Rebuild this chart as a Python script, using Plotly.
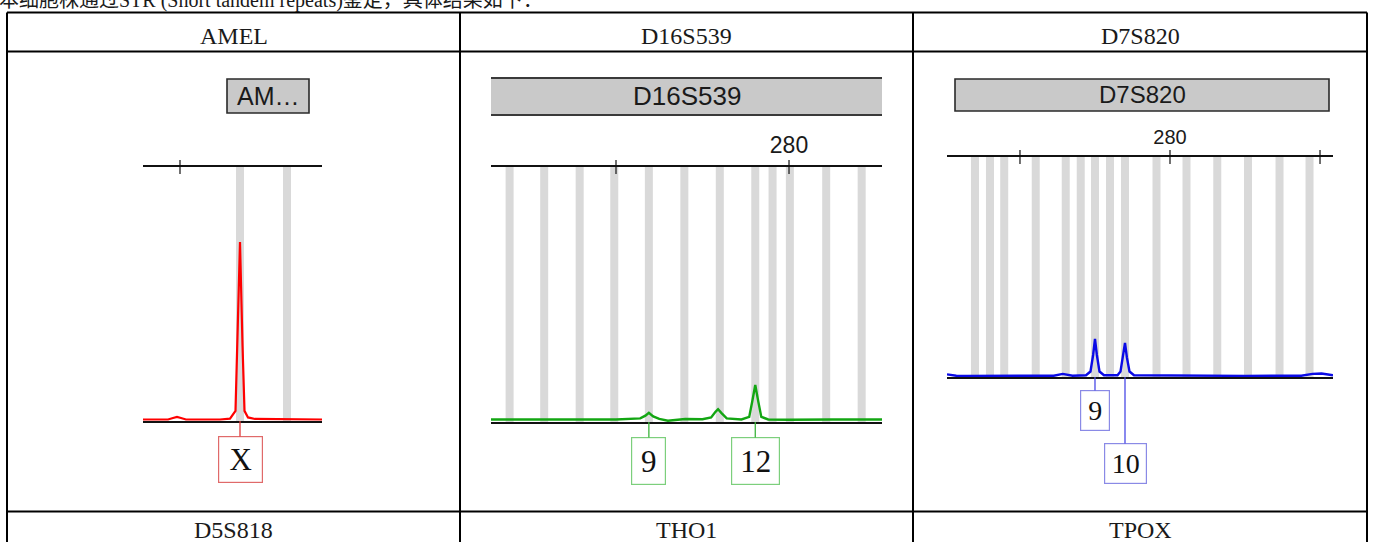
import plotly.graph_objects as go

W, H = 1373, 542

# ---------------- data ----------------
intro_text = "本细胞株通过STR (Short tandem repeats)鉴定，具体结果如下："
row1_headers = ["AMEL", "D16S539", "D7S820"]
row2_headers = ["D5S818", "THO1", "TPOX"]

# AMEL panel
amel_title = "AM…"
amel_ticks = [100]
amel_tick_text = [""]
amel_bins = [106.0, 110.7]
amel_x = [96.3, 98.8, 99.3, 99.7, 100.1, 100.6, 104.0, 105.0, 105.55, 105.75, 106.0, 106.25, 106.45, 106.8, 107.5, 114.2]
amel_y = [6, 6, 12, 16, 12, 6, 6, 9, 40, 300, 705, 300, 40, 14, 8, 6]
amel_alleles = ["X"]
amel_allele_pos = [106.0]

# D16S539 panel
d16_title = "D16S539"
d16_ticks = [260, 280]
d16_tick_text = ["", "280"]
d16_bins = [247.7, 251.7, 255.8, 259.8, 263.8, 267.9, 272.0, 276.1, 278.1, 280.1, 284.3, 288.4]
d16_x = [245.55, 250, 255, 260, 262.8, 263.4, 263.8, 264.3, 265, 266, 268, 270, 271.0, 271.5, 271.8,
         272.2, 272.8, 274.5, 275.4, 275.75, 276.1, 276.45, 276.8, 277.6, 280, 285, 290.75]
d16_y = [10, 9, 10, 10, 14, 25, 36, 22, 12, 5, 12, 11, 18, 40, 50,
         35, 14, 10, 20, 80, 145, 80, 20, 10, 9, 10, 10]
d16_alleles = ["9", "12"]
d16_allele_pos = [263.8, 276.1]

# D7S820 panel
d7_title = "D7S820"
d7_ticks = [260, 280, 300]
d7_tick_text = ["", "280", ""]
d7_bins = [254.0, 256.0, 257.9, 262.1, 266.1, 268.1, 270.0, 272.0, 274.0, 278.2, 282.2, 286.3, 290.4, 294.6, 298.6]
d7_x = [250.27, 251.5, 253, 260, 264.5, 265.7, 267, 268.8, 269.4, 269.75, 270, 270.25, 270.6, 271.2,
        273, 273.4, 273.75, 274, 274.25, 274.6, 275.2, 280, 290, 297.5, 299, 300.2, 301.73]
d7_y = [12, 6, 5, 5, 6, 14, 6, 8, 25, 100, 173, 100, 25, 8,
        8, 25, 90, 155, 90, 25, 8, 6, 5, 6, 14, 16, 8]
d7_alleles = ["9", "10"]
d7_allele_pos = [270.0, 274.0]

# ---------------- layout config (positions / styles) ----------------
def pxx(x):
    return x / W


def pxy(y):
    return 1 - y / H


panels = [
    dict(title=amel_title, ticks=amel_ticks, tick_text=amel_tick_text, bins=amel_bins,
         tx=amel_x, ty=amel_y, alleles=amel_alleles, allele_pos=amel_allele_pos,
         x0=143, x1=322, ytop=167, ybase=421, xrange=[96.3, 114.2],
         color="#ff0000", lw=2.2, boxcolor="#e06a6a", linecol="#e03a3a",
         hbox=(227, 309, 79, 113), hfont=25, hstyle="box",
         lab_ay=[38.5], lab_w=[45], lab_h=[47], lab_font=31, tickfont=22),
    dict(title=d16_title, ticks=d16_ticks, tick_text=d16_tick_text, bins=d16_bins,
         tx=d16_x, ty=d16_y, alleles=d16_alleles, allele_pos=d16_allele_pos,
         x0=491, x1=882, ytop=167, ybase=422, xrange=[245.55, 290.75],
         color="#13a613", lw=2.4, boxcolor="#7ccf7c", linecol="#3cb43c",
         hbox=(491, 882, 78, 115), hfont=26, hstyle="tb",
         lab_ay=[39, 39], lab_w=[35, 49], lab_h=[48, 48], lab_font=31, tickfont=23),
    dict(title=d7_title, ticks=d7_ticks, tick_text=d7_tick_text, bins=d7_bins,
         tx=d7_x, ty=d7_y, alleles=d7_alleles, allele_pos=d7_allele_pos,
         x0=947, x1=1333, ytop=157, ybase=377, xrange=[250.27, 301.73],
         color="#0a0ae6", lw=2.4, boxcolor="#8a8ae6", linecol="#4a4ae6",
         hbox=(955, 1329, 79, 111), hfont=24, hstyle="box",
         lab_ay=[33.5, 86.5], lab_w=[30, 43], lab_h=[41, 41], lab_font=28, tickfont=20),
]

fig = go.Figure()
shapes = []
annotations = []
layout_axes = {}

for i, p in enumerate(panels, start=1):
    xa = "x" if i == 1 else f"x{i}"
    ya = "y" if i == 1 else f"y{i}"
    xkey = "xaxis" if i == 1 else f"xaxis{i}"
    ykey = "yaxis" if i == 1 else f"yaxis{i}"

    fig.add_trace(go.Scatter(x=p["tx"], y=p["ty"], mode="lines", xaxis=xa, yaxis=ya,
                             line=dict(color=p["color"], width=p["lw"]),
                             hoverinfo="skip", showlegend=False))

    layout_axes[xkey] = dict(domain=[pxx(p["x0"]), pxx(p["x1"])], range=p["xrange"],
                             anchor=ya, side="top", showline=True, linecolor="#111",
                             linewidth=1.5, mirror=True, showgrid=False, zeroline=False,
                             tickvals=p["ticks"], ticktext=p["tick_text"], ticks="",
                             tickfont=dict(family="Liberation Sans, Arial", size=p["tickfont"], color="#1a1a1a"),
                             ticklabelstandoff=3, fixedrange=True)
    layout_axes[ykey] = dict(domain=[pxy(p["ybase"]), pxy(p["ytop"])], range=[0, 1000],
                             anchor=xa, showline=False, showgrid=False, zeroline=False,
                             showticklabels=False, ticks="", fixedrange=True)

    # grey allele bins
    for b in p["bins"]:
        shapes.append(dict(type="rect", xref=xa, yref=f"{ya} domain", xsizemode="pixel",
                           xanchor=b, x0=-4, x1=4, y0=0, y1=1, fillcolor="#d9d9d9",
                           line=dict(width=0), layer="below"))
    # tick marks crossing the axis line
    for t in p["ticks"]:
        shapes.append(dict(type="line", xref=xa, yref="paper", x0=t, x1=t,
                           y0=pxy(p["ytop"] - 7), y1=pxy(p["ytop"] + 7),
                           line=dict(color="#111", width=1.2)))

    # locus header box
    hx0, hx1, hy0, hy1 = p["hbox"]
    if p["hstyle"] == "box":
        shapes.append(dict(type="rect", xref="paper", yref="paper", x0=pxx(hx0), x1=pxx(hx1),
                           y0=pxy(hy1), y1=pxy(hy0), fillcolor="#c9c9c9",
                           line=dict(color="#2a2a2a", width=1.6)))
    else:
        shapes.append(dict(type="rect", xref="paper", yref="paper", x0=pxx(hx0), x1=pxx(hx1),
                           y0=pxy(hy1), y1=pxy(hy0), fillcolor="#c9c9c9", line=dict(width=0)))
        for yy in (hy0, hy1):
            shapes.append(dict(type="line", xref="paper", yref="paper", x0=pxx(hx0), x1=pxx(hx1),
                               y0=pxy(yy), y1=pxy(yy), line=dict(color="#3a3a3a", width=2)))
    annotations.append(dict(text=p["title"], xref="paper", yref="paper",
                            x=pxx((hx0 + hx1) / 2), y=pxy((hy0 + hy1) / 2),
                            xanchor="center", yanchor="middle", showarrow=False,
                            font=dict(family="Liberation Sans, Arial", size=p["hfont"], color="#1a1a1a")))

    # allele call labels
    for lab, pos, ay, bw, bh in zip(p["alleles"], p["allele_pos"], p["lab_ay"], p["lab_w"], p["lab_h"]):
        annotations.append(dict(text=lab, xref=xa, yref=ya, x=pos, y=0, ax=0, ay=ay,
                                showarrow=True, arrowhead=0, arrowwidth=1.3,
                                arrowcolor=p["linecol"], standoff=0, startstandoff=0,
                                bordercolor=p["boxcolor"], borderwidth=1.2, borderpad=0,
                                bgcolor="white", width=bw - 2, height=bh - 2,
                                align="center", valign="middle",
                                font=dict(family="Liberation Serif, Times New Roman", size=p["lab_font"], color="#111")))

# ---------------- table frame ----------------
tbl_left, tbl_right, tbl_top = 7, 1367, 12.5
row_sep1, row_sep2 = 51.5, 511.5
col_seps = [460, 913]
col_centers = [233.5, 686.5, 1140]
for yy in (tbl_top, row_sep1, row_sep2):
    shapes.append(dict(type="line", xref="paper", yref="paper", x0=pxx(tbl_left), x1=pxx(tbl_right),
                       y0=pxy(yy), y1=pxy(yy), line=dict(color="black", width=2)))
for xx in [tbl_left] + col_seps + [tbl_right]:
    shapes.append(dict(type="line", xref="paper", yref="paper", x0=pxx(xx), x1=pxx(xx),
                       y0=pxy(tbl_top), y1=pxy(H + 5), line=dict(color="black", width=2)))

for c, txt in zip(col_centers, row1_headers):
    annotations.append(dict(text=txt, xref="paper", yref="paper", x=pxx(c), y=pxy(35.5),
                            xanchor="center", yanchor="middle", showarrow=False,
                            font=dict(family="Liberation Serif, Times New Roman", size=24, color="#1a1a1a")))
for c, txt in zip(col_centers, row2_headers):
    annotations.append(dict(text=txt, xref="paper", yref="paper", x=pxx(c), y=pxy(530),
                            xanchor="center", yanchor="middle", showarrow=False,
                            font=dict(family="Liberation Serif, Times New Roman", size=24, color="#1a1a1a")))

# partially visible intro sentence (cut by the top edge)
annotations.append(dict(text=intro_text, xref="paper", yref="paper", x=pxx(-3), y=pxy(1),
                        xanchor="left", yanchor="middle", showarrow=False,
                        font=dict(family="Liberation Serif, Noto Sans CJK SC", size=20, color="#1a1a1a")))

fig.update_layout(width=W, height=H, margin=dict(l=0, r=0, t=0, b=0),
                  paper_bgcolor="white", plot_bgcolor="rgba(0,0,0,0)",
                  showlegend=False, shapes=shapes, annotations=annotations, **layout_axes)

fig.write_html("out.html", config={"displayModeBar": False},
               post_script="document.body.style.margin='0';document.body.style.overflow='hidden';")
